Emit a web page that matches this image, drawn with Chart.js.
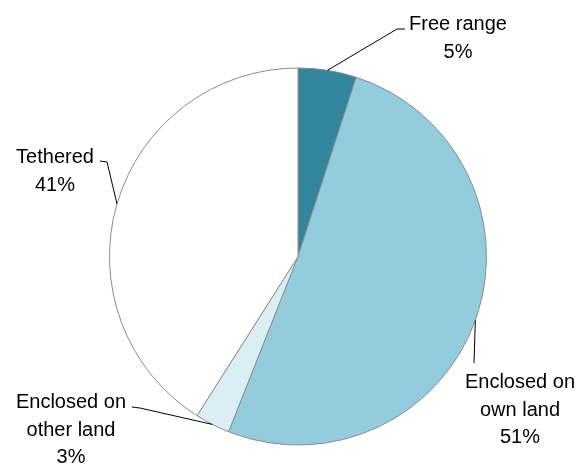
<!DOCTYPE html>
<html>
<head>
<meta charset="utf-8">
<script src="https://cdn.jsdelivr.net/npm/chart.js@4/dist/chart.umd.min.js"></script>
<style>
    html, body {margin: 0; padding: 0; background: #ffffff;}
    #wrap {width: 577px; height: 466px;}
</style>
</head>
<body>
<div id="wrap"><canvas id="pie"></canvas></div>
<script>
const categories = ["Free range", "Enclosed on own land", "Enclosed on other land", "Tethered"];
const shares = [5, 51, 3, 41];
const labelLines = [["Free range"], ["Enclosed on", "own land"], ["Enclosed on", "other land"], ["Tethered"]];
const sliceColors = ["#31859c", "#93cddd", "#daeef3", "#ffffff"];

// where each label sits and how its leader line bends (text centre x, first baseline y)
const labelLayout = [
    {x: 458, y: 30, bend: [[397, 29], [405, 29]]},
    {x: 520, y: 388, bend: [[474, 363]]},
    {x: 71, y: 408, bend: [[140, 408], [132, 407]]},
    {x: 55, y: 163, bend: [[107, 162], [100, 161]]}
];

const leaderLabels = {
    id: "leaderLabels",
    afterDatasetsDraw(chart) {
        const ctx = chart.ctx;
        const arcs = chart.getDatasetMeta(0).data;
        const total = shares.reduce((a, b) => a + b, 0);
        ctx.save();
        ctx.strokeStyle = "#000000";
        ctx.lineWidth = 1;
        ctx.fillStyle = "#000000";
        ctx.font = "20px 'Liberation Sans', Arial, sans-serif";
        ctx.textAlign = "center";
        ctx.textBaseline = "alphabetic";
        arcs.forEach((arc, i) => {
            const mid = (arc.startAngle + arc.endAngle) / 2;
            const sx = arc.x + Math.cos(mid) * arc.outerRadius;
            const sy = arc.y + Math.sin(mid) * arc.outerRadius;
            const lay = labelLayout[i];
            ctx.beginPath();
            ctx.moveTo(sx, sy);
            lay.bend.forEach(p => ctx.lineTo(p[0], p[1]));
            ctx.stroke();
            const lines = labelLines[i].concat([Math.round(shares[i] / total * 100) + "%"]);
            lines.forEach((t, k) => ctx.fillText(t, lay.x, lay.y + k * 27.5));
        });
        ctx.restore();
    }
};

const chartobj = new Chart(document.getElementById("pie"), {
    type: "pie",
    data: {
        labels: categories,
        datasets: [{
            data: shares,
            backgroundColor: sliceColors,
            borderColor: "#8c8c8c",
            borderWidth: 1
        }]
    },
    options: {
        responsive: true,
        maintainAspectRatio: false,
        animation: {duration: 0},
        layout: {padding: {top: 67, bottom: 20, left: 109, right: 90}},
        plugins: {
            legend: {display: false},
            tooltip: {enabled: false}
        }
    },
    plugins: [leaderLabels]
});
</script>
</body>
</html>
